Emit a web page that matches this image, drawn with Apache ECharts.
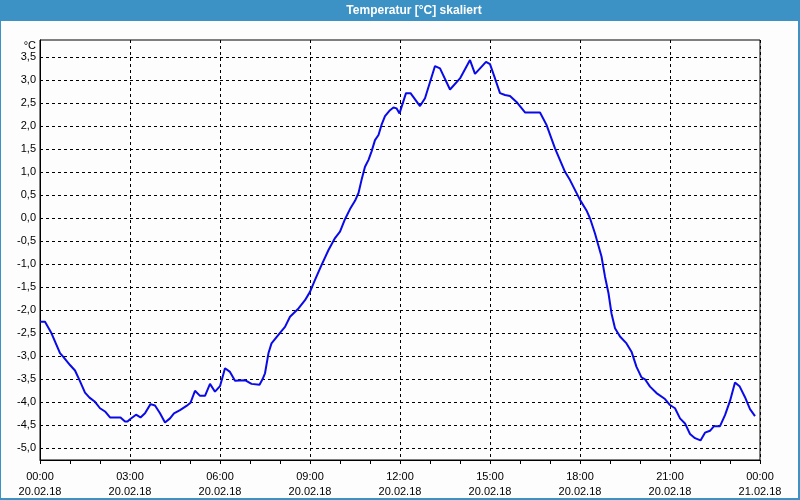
<!DOCTYPE html>
<html>
<head>
<meta charset="utf-8">
<script src="https://cdn.jsdelivr.net/npm/echarts@6/dist/echarts.min.js"></script>
<style>
html,body{margin:0;padding:0;background:#fcfdfc;}
#c{width:800px;height:500px;}
</style>
</head>
<body>
<div id="c"></div>
<script>
// Minutes since 00:00 on 20.02.18
var minutes = [0,10,23,40,47,60,70,79,90,99,110,120,130,140,161,170,175,180,192,201,210,221,230,240,250,260,268,280,293,301,310,320,330,340,350,360,370,380,390,410,423,439,445,450,457,463,480,490,500,517,530,540,550,563,577,590,600,610,620,630,637,643,650,657,663,670,677,683,690,700,707,713,719,732,741,760,770,790,800,820,840,860,870,892,900,910,920,930,940,953,970,1000,1013,1030,1050,1060,1080,1093,1100,1110,1123,1130,1137,1143,1150,1160,1173,1183,1193,1203,1210,1220,1233,1250,1260,1270,1280,1290,1300,1310,1321,1330,1340,1348,1360,1370,1380,1390,1399,1410,1420,1430];
var temps = [-2.25,-2.25,-2.50,-2.93,-3.02,-3.19,-3.31,-3.52,-3.79,-3.90,-3.99,-4.13,-4.20,-4.33,-4.33,-4.42,-4.42,-4.37,-4.27,-4.33,-4.24,-4.04,-4.07,-4.24,-4.44,-4.35,-4.24,-4.17,-4.08,-4.01,-3.75,-3.86,-3.86,-3.60,-3.77,-3.65,-3.26,-3.34,-3.53,-3.52,-3.60,-3.62,-3.50,-3.37,-2.93,-2.72,-2.49,-2.36,-2.14,-1.96,-1.78,-1.60,-1.34,-1.02,-0.69,-0.43,-0.29,-0.02,0.20,0.38,0.55,0.83,1.12,1.27,1.45,1.70,1.81,2.03,2.22,2.35,2.41,2.39,2.28,2.72,2.72,2.44,2.61,3.31,3.26,2.80,3.04,3.44,3.14,3.40,3.35,3.04,2.72,2.68,2.66,2.53,2.30,2.30,2.03,1.52,1.01,0.83,0.40,0.17,0.00,-0.33,-0.83,-1.27,-1.63,-2.07,-2.39,-2.57,-2.72,-2.90,-3.23,-3.46,-3.50,-3.66,-3.80,-3.93,-4.06,-4.13,-4.35,-4.46,-4.69,-4.78,-4.83,-4.66,-4.62,-4.52,-4.52,-4.28,-3.97,-3.57,-3.65,-3.89,-4.15,-4.30];
var yTicks = [-5,-4.5,-4,-3.5,-3,-2.5,-2,-1.5,-1,-0.5,0,0.5,1,1.5,2,2.5,3,3.5];
var dayLabels = ['20.02.18','21.02.18'];
var titleText = 'Temperatur [°C] skaliert';
var unitText = '°C';

var data = minutes.map(function(m,i){return [m,temps[i]];});
function pad(n){return (n<10?'0':'')+n;}

var chart = echarts.init(document.getElementById('c'), null, {renderer:'canvas'});
chart.setOption({
  animation:false,
  backgroundColor:'#fcfdfc',
  textStyle:{fontFamily:'Liberation Sans'},
  graphic:[
    {type:'rect', shape:{x:0,y:0,width:800,height:21}, style:{fill:'#3c92c5'}, z:10},
    {type:'rect', shape:{x:0,y:0,width:1,height:500}, style:{fill:'#3c92c5'}, z:10},
    {type:'rect', shape:{x:798,y:0,width:2,height:500}, style:{fill:'#3c92c5'}, z:10},
    {type:'rect', shape:{x:0,y:498,width:800,height:2}, style:{fill:'#3c92c5'}, z:10},
    {type:'text', x:414, y:11, z:11, style:{text:titleText, fill:'#ffffff', font:'bold 12px "Liberation Sans"', align:'center', verticalAlign:'middle'}}
  ],
  grid:{left:40, top:40, width:720, height:420, show:true, borderColor:'#000', borderWidth:1, backgroundColor:'transparent', containLabel:false},
  xAxis:{
    type:'value', min:0, max:1440, interval:180,
    axisLine:{show:true, onZero:false, lineStyle:{color:'#000', width:1}},
    axisTick:{show:true, length:4, lineStyle:{color:'#000'}},
    minorTick:{show:true, splitNumber:3, length:4, lineStyle:{color:'#000'}},
    splitLine:{show:true, lineStyle:{color:'#000', type:[3,3], width:1}},
    axisLabel:{
      color:'#000', fontSize:11, lineHeight:15, margin:9, fontFamily:'Liberation Sans',
      showMinLabel:true, showMaxLabel:true,
      formatter:function(v){
        var d = Math.floor(v/1440), r = v - d*1440;
        return pad(Math.floor(r/60))+':'+pad(r%60)+'\n'+dayLabels[d];
      }
    }
  },
  yAxis:{
    type:'value', min:-5.255, max:3.876,
    name:unitText, nameLocation:'end', nameGap:-6,
    nameTextStyle:{color:'#000', fontSize:11, align:'right', verticalAlign:'middle', padding:[0,4,0,0], fontFamily:'Liberation Sans'},
    axisLine:{show:true, onZero:false, lineStyle:{color:'#000', width:1}},
    axisTick:{show:false, customValues:yTicks},
    splitLine:{show:true, lineStyle:{color:'#000', type:[3,3], width:1}},
    axisLabel:{
      color:'#000', fontSize:11, margin:4, fontFamily:'Liberation Sans',
      customValues:yTicks,
      formatter:function(v){return v.toFixed(1).replace('.',',');}
    }
  },
  series:[{
    type:'line', data:data, showSymbol:false, symbol:'none',
    lineStyle:{color:'#0a0ae8', width:2}, itemStyle:{color:'#0a0ae8'},
    z:5
  }]
});
</script>
</body>
</html>
